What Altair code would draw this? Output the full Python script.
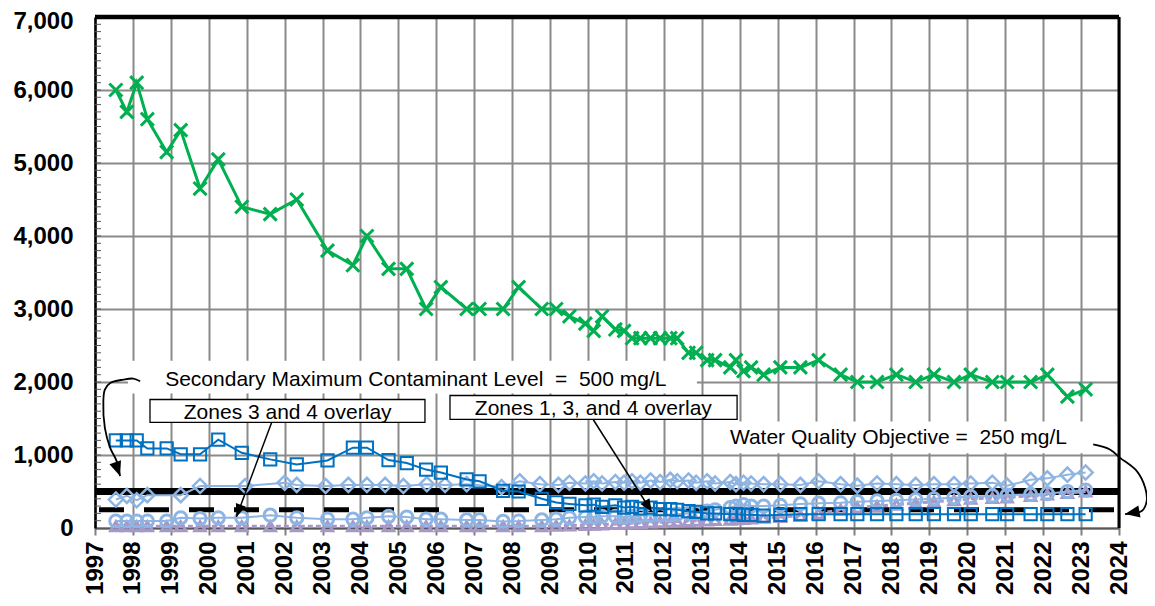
import math
import altair as alt
import pandas as pd

# ---------------- data ----------------
dates = [1997.55, 1997.84, 1998.10, 1998.38, 1998.89, 1999.26, 1999.77, 2000.25, 2000.87, 2001.62,
         2002.32, 2003.13, 2003.80, 2004.17, 2004.74, 2005.22, 2005.73, 2006.12, 2006.80, 2007.14,
         2007.76, 2008.17, 2008.78, 2009.16, 2009.51, 2009.93, 2010.15, 2010.37, 2010.72, 2010.95,
         2011.16, 2011.38, 2011.65, 2011.90, 2012.17, 2012.35, 2012.65, 2012.85, 2013.14, 2013.35,
         2013.75, 2013.90, 2014.10, 2014.30, 2014.63, 2015.07, 2015.60, 2016.08, 2016.66, 2017.10,
         2017.62, 2018.13, 2018.64, 2019.12, 2019.65, 2020.09, 2020.66, 2021.05, 2021.67, 2022.11,
         2022.64, 2023.12]

green_x = [6000, 5700, 6100, 5600, 5150, 5450, 4650, 5050, 4400, 4300,
           4500, 3800, 3600, 4000, 3550, 3550, 3000, 3300, 3000, 3000,
           3000, 3300, 3000, 3000, 2900, 2800, 2700, 2900, 2720, 2700,
           2600, 2600, 2600, 2600, 2600, 2600, 2400, 2400, 2300, 2300,
           2200, 2300, 2150, 2200, 2100, 2200, 2200, 2300, 2100, 2000,
           2000, 2100, 2000, 2100, 2000, 2100, 2000, 2000, 2000, 2100,
           1800, 1900]

blue_squares = [1200, 1200, 1200, 1090, 1090, 1010, 1010, 1210, 1030, 940,
                870, 925, 1100, 1100, 930, 890, 800, 760, 665, 640,
                510, 500, 400, 350, 330, 310, 320, 290, 310, 280,
                290, 270, 280, 260, 260, 250, 230, 220, 200, 200,
                190, 190, 180, 180, 170, 180, 190, 190, 190, 190,
                190, 190, 190, 190, 190, 190, 190, 190, 190, 190,
                190, 190]

lightblue_circles = [95, 95, 95, 95, 95, 140, 130, 140, 140, 175,
                     140, 120, 120, 140, 160, 150, 120, 120, 110, 110,
                     90, 95, 110, 120, 140, 150, 150, 160, 160, 150,
                     160, 170, 170, 180, 180, 190, 200, 210, 230, 250,
                     280, 300, 320, 300, 300, 310, 330, 340, 345, 360,
                     370, 380, 390, 400, 415, 430, 440, 450, 460, 470,
                     500, 520]

purple_triangles = [25, 25, 25, 25, 25, 25, 25, 25, 25, 25,
                    25, 25, 25, 25, 25, 25, 25, 25, 25, 25,
                    25, 25, 25, 30, 35, 40, 45, 50, 55, 60,
                    65, 70, 75, 80, 85, 90, 95, 100, 105, 110,
                    115, 120, 125, 130, 140, 150, 170, 200, 250, 280,
                    300, 320, 340, 360, 380, 400, 410, 420, 440, 460,
                    480, 500]

diamond_dates = [1997.55, 1997.84, 1998.10, 1998.38, 1999.26, 1999.77, 2000.96, 2002.00, 2002.32, 2003.08,
                 2003.68, 2004.17, 2004.65, 2005.13, 2005.75, 2006.23, 2006.80, 2007.72, 2008.20, 2008.73,
                 2009.22, 2009.51, 2009.93, 2010.15, 2010.37, 2010.72, 2010.95, 2011.16, 2011.38, 2011.65,
                 2011.90, 2012.17, 2012.35, 2012.65, 2012.85, 2013.14, 2013.35, 2013.75, 2013.90, 2014.10,
                 2014.30, 2014.63, 2015.07, 2015.60, 2016.08, 2016.66, 2017.10, 2017.62, 2018.13, 2018.64,
                 2019.12, 2019.65, 2020.09, 2020.66, 2021.05, 2021.67, 2022.11, 2022.64, 2023.12]
lightblue_diamonds = [390, 440, 380, 450, 450, 575, 575, 620, 590, 575,
                      590, 590, 590, 575, 600, 590, 600, 560, 640, 600,
                      590, 620, 610, 640, 610, 630, 620, 640, 620, 650,
                      630, 660, 640, 650, 620, 640, 610, 630, 600, 620,
                      610, 600, 600, 590, 640, 600, 580, 610, 600, 590,
                      600, 600, 610, 620, 580, 660, 680, 730, 760]

year_ticks = list(range(1997, 2025))
value_ticks = list(range(0, 7001, 1000))
minor_ticks = list(range(100, 7000, 100))

smcl_value = 500      # Secondary Maximum Contaminant Level
wqo_value = 250       # Water Quality Objective

# ---------------- styling / scales ----------------
FONT = "Liberation Sans"
GRID = "#8a8a8a"
PLOT_W, PLOT_H = 1024, 511
PX_X = PLOT_W / 27.0
PX_Y = PLOT_H / 7000.0

x_scale = alt.Scale(domain=[1997, 2024], nice=False, zero=False)
y_scale = alt.Scale(domain=[0, 7000], nice=False, zero=True)

x_axis = alt.Axis(values=year_ticks, format="d", labelAngle=270, labelFont=FONT,
                  labelFontWeight="bold", labelFontSize=24, labelColor="black",
                  labelPadding=6, labelOverlap=False, labelFlush=False, labelBound=False,
                  grid=True, gridColor=GRID, gridWidth=2, ticks=True, tickColor="#7f7f7f",
                  tickWidth=2, tickSize=7, domain=True, domainColor="#595959", domainWidth=2,
                  title=None)
y_axis = alt.Axis(values=value_ticks, format=",d", labelFont=FONT, labelFontWeight="bold",
                  labelFontSize=24, labelColor="black", labelPadding=22, ticks=False,
                  labelOffset={"condition": {"test": "datum.value == 7000", "value": 4}, "value": 0},
                  grid=True, gridColor=GRID, gridWidth=2, domain=True, domainColor="black",
                  domainWidth=2.5, title=None)


def X(f):
    return alt.X(f"{f}:Q", scale=x_scale, axis=x_axis)


def Y(f):
    return alt.Y(f"{f}:Q", scale=y_scale, axis=y_axis)


minor_layer = alt.Chart(pd.DataFrame({"v": minor_ticks})).mark_rule(color="#595959", strokeWidth=1).encode(
    y=Y("v"), x=alt.value(0), x2=alt.value(6))

top_rule = alt.Chart(pd.DataFrame({"v": [7000]})).mark_rule(color="black", strokeWidth=4.5).encode(y=Y("v"))
right_rule = alt.Chart(pd.DataFrame({"t": [2024]})).mark_rule(color="black", strokeWidth=3).encode(x=X("t"))

smcl_rule = alt.Chart(pd.DataFrame({"v": [smcl_value]})).mark_rule(color="black", strokeWidth=7).encode(y=Y("v"))
wqo_rule = alt.Chart(pd.DataFrame({"v": [wqo_value]})).mark_rule(
    color="black", strokeWidth=5, strokeDash=[25, 20], strokeDashOffset=-5).encode(y=Y("v"))

# ---------------- annotations ----------------
plain_boxes = pd.DataFrame({"x1": [1997.87, 2013.43], "x2": [2012.87, 2023.95],
                            "y1": [2292, 1460], "y2": [1842, 1023]})
plain_box_layer = alt.Chart(plain_boxes).mark_rect(color="white").encode(
    x=X("x1"), x2="x2", y=Y("y1"), y2="y2")

framed_boxes = pd.DataFrame({"x1": [1998.45, 2006.36], "x2": [2005.70, 2013.93],
                             "y1": [1760, 1815], "y2": [1446, 1487]})
framed_box_layer = alt.Chart(framed_boxes).mark_rect(fill="white", stroke="black", strokeWidth=1.3).encode(
    x=X("x1"), x2="x2", y=Y("y1"), y2="y2")

left_texts = pd.DataFrame({
    "x": [1998.85, 2013.74],
    "y": [1951, 1156],
    "t": ["Secondary Maximum Contaminant Level \u00a0=\u00a0 500 mg/L",
          "Water Quality Objective = \u00a0250 mg/L"],
})
left_text_layer = alt.Chart(left_texts).mark_text(
    font=FONT, fontSize=21, color="black", align="left", baseline="alphabetic").encode(
    x=X("x"), y=Y("y"), text="t:N")

box_texts = pd.DataFrame({"x": [2002.08, 2010.14], "y": [1497, 1542],
                          "t": ["Zones 3 and 4 overlay", "Zones 1, 3, and 4 overlay"]})
box_text_layer = alt.Chart(box_texts).mark_text(
    font=FONT, fontSize=21, color="black", align="center", baseline="alphabetic").encode(
    x=X("x"), y=Y("y"), text="t:N")


def heading(x0, y0, x1, y1):
    dx = (x1 - x0) * PX_X
    dy = -(y1 - y0) * PX_Y
    return math.degrees(math.atan2(dx, -dy)) % 360


straight = pd.DataFrame({"x1": [2001.66, 2010.14], "y1": [1450, 1483],
                         "x2": [2000.73, 2011.68], "y2": [154, 222]})
straight_layer = alt.Chart(straight).mark_rule(color="black", strokeWidth=1.5).encode(
    x=X("x1"), y=Y("y1"), x2="x2", y2="y2")

left_curve_x = [1998.19, 1998.01, 1997.75, 1997.40, 1997.26, 1997.22, 1997.26, 1997.40, 1997.57, 1997.66]
left_curve_y = [2010, 2047, 2033, 1987, 1896, 1736, 1371, 1098, 916, 711]
right_curve_x = [2023.32, 2023.76, 2024.03, 2024.47, 2024.69, 2024.73, 2024.60, 2024.16]
right_curve_y = [1144, 1076, 961, 779, 551, 369, 232, 191]

curves = pd.DataFrame({
    "x": left_curve_x + right_curve_x,
    "y": left_curve_y + right_curve_y,
    "g": ["L"] * len(left_curve_x) + ["R"] * len(right_curve_x),
    "i": list(range(len(left_curve_x))) + list(range(len(right_curve_x))),
})
curve_layer = alt.Chart(curves).mark_line(color="black", strokeWidth=1.8, interpolate="catmull-rom").encode(
    x=X("x"), y=Y("y"), detail="g:N", order=alt.Order("i:Q"))

heads = pd.DataFrame({
    "x": [straight.x2[0], straight.x2[1], left_curve_x[-1], right_curve_x[-1]],
    "y": [straight.y2[0], straight.y2[1], left_curve_y[-1], right_curve_y[-1]],
    "a": [heading(straight.x1[0], straight.y1[0], straight.x2[0], straight.y2[0]),
          heading(straight.x1[1], straight.y1[1], straight.x2[1], straight.y2[1]),
          heading(left_curve_x[-3], left_curve_y[-3], left_curve_x[-1], left_curve_y[-1]),
          heading(right_curve_x[-2], right_curve_y[-2], right_curve_x[-1], right_curve_y[-1])],
    "s": [650, 650, 850, 850],
})
head_layer = alt.Chart(heads).mark_point(
    shape="M0,0L-0.42,1L0.42,1Z", filled=True, color="black", opacity=1).encode(
    x=X("x"), y=Y("y"), angle=alt.Angle("a:Q", scale=None), size=alt.Size("s:Q", scale=None))


# ---------------- series ----------------
def series(xs, ys, color, shape, size, line_w, pt_w, dash=None):
    df = pd.DataFrame({"d": xs, "v": ys})
    line_kw = dict(color=color, strokeWidth=line_w)
    if dash:
        line_kw["strokeDash"] = dash
    ln = alt.Chart(df).mark_line(**line_kw).encode(x=X("d"), y=Y("v"))
    pt = alt.Chart(df).mark_point(shape=shape, size=size, strokeWidth=pt_w, color=color,
                                  filled=False, opacity=1).encode(x=X("d"), y=Y("v"))
    return [ln, pt]


layers = [minor_layer, smcl_rule, wqo_rule]
layers += series(dates, purple_triangles, "#A898C8", "triangle-up", 110, 3, 3, dash=[5, 3])
layers += series(dates, lightblue_circles, "#8DB4E2", "circle", 150, 2, 3)
layers += series(diamond_dates, lightblue_diamonds, "#8DB4E2", "diamond", 200, 2, 2.5)
layers += series(dates, blue_squares, "#0070C0", "square", 150, 2, 2)
layers += series(dates, green_x, "#00B050", "M-1,-1L1,1M-1,1L1,-1", 170, 3, 3)
layers += [top_rule, right_rule, plain_box_layer, framed_box_layer, left_text_layer, box_text_layer,
           straight_layer, curve_layer, head_layer]

chart = alt.layer(*layers).properties(
    width=PLOT_W, height=PLOT_H,
    autosize=alt.AutoSizeParams(type="none"),
    padding={"left": 87, "top": 9, "right": 28, "bottom": 70},
    background="white",
).configure_view(strokeWidth=0)

chart.save("out.html", embed_options={"renderer": "svg", "actions": False})
